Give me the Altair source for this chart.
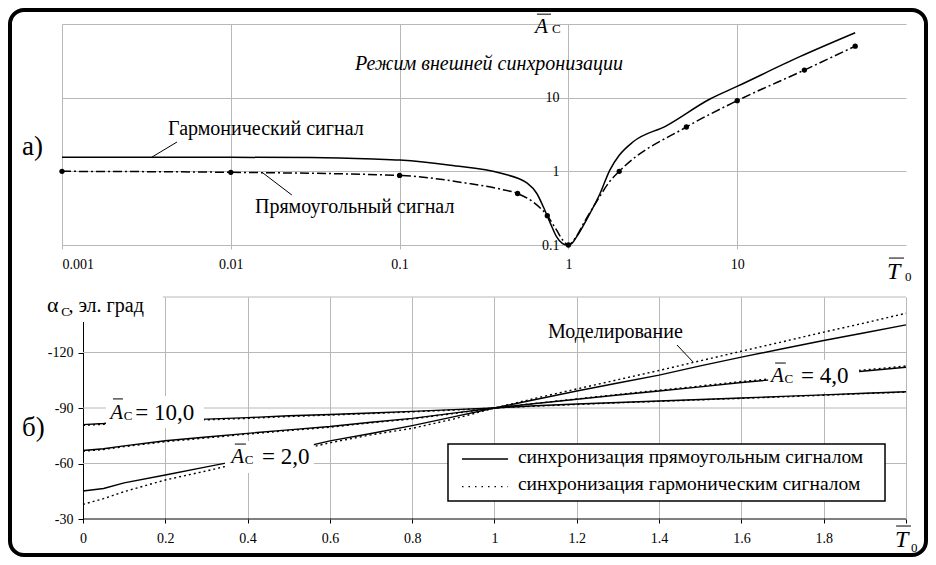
import altair as alt
import pandas as pd

FONT = "'Liberation Serif', 'Times New Roman', serif"
GRID = "#b8b8b8"

# ---------------- panel a) : A_C(T0), log-log ----------------
harm_T = [0.001, 0.01, 0.03, 0.07, 0.1, 0.2, 0.4, 0.57, 0.65, 0.71, 0.78, 0.85, 0.92, 0.97,
          1.03, 1.12, 1.28, 1.54, 1.76, 2.0, 2.42, 3.8, 6.9, 9.9, 23.5, 50]
harm_V = [1.55, 1.55, 1.54, 1.47, 1.42, 1.21, 0.94, 0.69, 0.5, 0.33, 0.2, 0.13, 0.105, 0.1,
          0.102, 0.13, 0.22, 0.5, 1.04, 1.65, 2.52, 4.15, 9.6, 14.1, 36, 76]
rect_T = [0.001, 0.01, 0.1, 0.25, 0.4, 0.5, 0.62, 0.75, 0.85, 0.93, 1.0, 1.1, 1.25, 1.5,
          1.75, 2.0, 5, 10, 25, 50]
rect_V = [1.0, 0.97, 0.88, 0.69, 0.57, 0.5, 0.38, 0.25, 0.16, 0.115, 0.1, 0.125, 0.21, 0.42,
          0.72, 1.0, 4.0, 9.1, 23.7, 50]
mark_T = [0.001, 0.01, 0.1, 0.5, 0.75, 1, 2, 5, 10, 25, 50]
mark_V = [1.0, 0.97, 0.88, 0.5, 0.25, 0.1, 1.0, 4.0, 9.1, 23.7, 50]

top_xticks = [0.001, 0.01, 0.1, 1, 10]
top_yticks = [0.1, 1, 10, 100]

# annotations of panel a): (text, T, V, size, style)
top_texts = [
    ("Гармонический сигнал", 0.00425, 3.11, 20, "normal"),
    ("Прямоугольный сигнал", 0.0139, 0.272, 20, "normal"),
    ("Режим внешней синхронизации", 0.0544, 23.7, 20, "italic"),
    ("а)", 0.00058, 1.66, 27, "normal"),
    ("A", 0.634, 75.4, 21, "italic"),
    ("C", 0.80, 75.4, 13, "normal"),
    ("T", 77.2, 0.0345, 24, "italic"),
    ("0", 98.6, 0.0324, 13, "normal"),
]
# leader lines and overlines: (T1, V1, T2, V2)
top_segments = [
    (0.0048, 2.5, 0.00341, 1.56),
    (0.0155, 0.95, 0.023, 0.477),
    (0.651, 136, 0.789, 136),
    (79.3, 0.0665, 97.3, 0.0665),
]

# ---------------- panel б) : alpha_C(T0) ----------------
b_T = [0, 0.05, 0.1, 0.2, 0.3, 0.4, 0.5, 0.6, 0.7, 0.8, 0.9, 1.0,
       1.1, 1.2, 1.3, 1.4, 1.5, 1.6, 1.7, 1.8, 1.9, 2.0]
a10_solid = [-81.0, -81.6, -82.6, -83.4, -84.0, -84.8, -85.8, -86.5, -87.3, -88.2, -89.1, -90.0,
             -91.2, -92.2, -93.0, -93.8, -94.6, -95.4, -96.3, -97.1, -98.0, -98.8]
a10_dot = [-80.6, -81.2, -82.2, -83.0, -83.6, -84.4, -85.4, -86.2, -87.0, -87.9, -88.9, -90.0,
           -91.0, -91.9, -92.8, -93.6, -94.4, -95.2, -96.0, -96.9, -97.8, -98.6]
a4_solid = [-67.0, -68.0, -69.5, -72.3, -74.3, -76.3, -78.2, -80.0, -82.3, -84.4, -87.2, -90.0,
            -92.4, -94.7, -97.0, -99.2, -101.4, -103.8, -105.8, -107.9, -110.0, -112.0]
a4_dot = [-66.6, -67.6, -69.1, -71.8, -73.8, -75.9, -77.8, -79.6, -82.0, -84.1, -87.0, -90.0,
          -92.5, -94.9, -97.3, -99.6, -101.9, -104.3, -106.4, -108.5, -110.6, -112.7]
a2_solid = [-45.1, -46.5, -49.5, -53.8, -58.2, -62.5, -67.0, -72.2, -76.2, -80.5, -85.2, -90.0,
            -94.6, -99.2, -103.5, -107.8, -112.8, -117.5, -122.0, -126.5, -130.7, -134.9]
a2_dot = [-37.9, -41.0, -44.8, -51.1, -56.0, -61.2, -66.0, -71.2, -75.5, -79.0, -84.0, -90.0,
          -95.3, -100.3, -105.3, -110.3, -115.5, -120.7, -125.8, -131.0, -136.0, -141.2]

b_xticks = [0, 0.2, 0.4, 0.6, 0.8, 1, 1.2, 1.4, 1.6, 1.8, 2]
b_yticks = [-30, -60, -90, -120]
b_hgrid = [-60, -90, -120, -150]

# white label backgrounds: (T1, T2, v1, v2)
b_masks = [
    (-0.141, 0.194, -157.6, -136.5),
    (0.0559, 0.294, -96.5, -79.2),
    (0.345, 0.561, -72.2, -54.9),
    (1.665, 1.886, -115.9, -98.6),
]
b_texts = [
    ("α", -0.0875, -141.9, 22, "normal"),
    ("C", -0.053, -139.7, 13, "normal"),
    (", эл. град", -0.0355, -141.9, 20, "normal"),
    ("б)", -0.148, -74.9, 27, "normal"),
    ("Моделирование", 1.130, -127.7, 20, "normal"),
    ("A", 0.066, -84.0, 21, "italic"),
    ("C", 0.099, -83.5, 13, "normal"),
    ("= 10,0", 0.127, -83.5, 23, "normal"),
    ("A", 0.360, -60.3, 21, "italic"),
    ("C", 0.393, -59.7, 13, "normal"),
    ("= 2,0", 0.435, -59.7, 23, "normal"),
    ("A", 1.672, -104.1, 21, "italic"),
    ("C", 1.705, -103.5, 13, "normal"),
    ("= 4,0", 1.745, -103.5, 23, "normal"),
    ("T", 1.973, -14.9, 24, "italic"),
    ("0", 2.012, -12.2, 13, "normal"),
]
b_segments = [
    (1.4435, -124.05, 1.4824, -114.9),
    (0.0729, -94.9, 0.0972, -94.9),
    (0.369, -70.5, 0.396, -70.5),
    (1.682, -114.3, 1.708, -114.3),
    (1.976, -26.2, 2.012, -26.2),
]
legend_box = (0.887, 1.949, -70.5, -39.7)
legend_rows = [
    ("синхронизация прямоугольным сигналом", -62.4, -60.1, "solid"),
    ("синхронизация гармоническим сигналом", -47.5, -45.7, "dot"),
]
legend_sample_T = (0.921, 1.033)
legend_text_T = 1.057

# ================= build panel a) =================
xs = alt.Scale(type="log", domain=[0.001, 100], nice=False)
ys = alt.Scale(type="log", domain=[0.1, 100], nice=False)

harm_df = pd.DataFrame({"T": harm_T, "V": harm_V})
rect_df = pd.DataFrame({"T": rect_T, "V": rect_V})
mark_df = pd.DataFrame({"T": mark_T, "V": mark_V})

x_top = alt.X("T:Q", scale=xs, axis=alt.Axis(
    values=top_xticks, format="~g", grid=True, gridColor=GRID, gridWidth=1,
    domain=False, ticks=True, tickColor=GRID, tickSize=4,
    labelFont=FONT, labelFontSize=14, labelColor="black", labelPadding=8, title=None))
y_top = alt.Y("V:Q", scale=ys, axis=alt.Axis(
    values=top_yticks, labelExpr="datum.value >= 100 ? '' : format(datum.value, '~g')",
    grid=True, gridColor=GRID, gridWidth=1, domain=False, ticks=False, offset=-506,
    labelFont=FONT, labelFontSize=14, labelColor="black", labelPadding=9, title=None))

top_layers = [
    alt.Chart(harm_df).mark_line(color="black", strokeWidth=1.5, interpolate="monotone").encode(
        x=x_top, y=y_top),
    alt.Chart(rect_df).mark_line(color="black", strokeWidth=1.5, strokeDash=[9, 3, 2, 3],
                                 interpolate="monotone").encode(
        x=alt.X("T:Q", scale=xs), y=alt.Y("V:Q", scale=ys)),
    alt.Chart(mark_df).mark_circle(color="black", size=28, opacity=1).encode(
        x=alt.X("T:Q", scale=xs), y=alt.Y("V:Q", scale=ys)),
]
seg_df = pd.DataFrame(top_segments, columns=["T1", "V1", "T2", "V2"])
top_layers.append(alt.Chart(seg_df).mark_rule(color="black", strokeWidth=1).encode(
    x=alt.X("T1:Q", scale=xs), y=alt.Y("V1:Q", scale=ys), x2="T2:Q", y2="V2:Q"))
for (t, tx, ty, sz, st) in top_texts:
    d = pd.DataFrame({"T": [tx], "V": [ty], "t": [t]})
    top_layers.append(alt.Chart(d).mark_text(
        font=FONT, fontSize=sz, fontStyle=st, align="left", baseline="alphabetic", color="black"
    ).encode(x=alt.X("T:Q", scale=xs), y=alt.Y("V:Q", scale=ys), text="t:N"))

# outer rounded frame (pixel decoration)
frame = alt.Chart(pd.DataFrame({"a": [0]})).mark_rect(
    fillOpacity=0, stroke="black", strokeWidth=4, cornerRadius=14
).encode(x=alt.value(-52), x2=alt.value(864), y=alt.value(-14), y2=alt.value(531))
top_layers.append(frame)

top = alt.layer(*top_layers).properties(width=844, height=221)

# ================= build panel б) =================
xb = alt.Scale(domain=[-0.051, 2], nice=False, zero=False)
yb = alt.Scale(domain=[-150, -30], reverse=True, nice=False, zero=False)

rows = []
for name, vals, kind in [("10", a10_solid, "solid"), ("10", a10_dot, "dot"),
                         ("4", a4_solid, "solid"), ("4", a4_dot, "dot"),
                         ("2", a2_solid, "solid"), ("2", a2_dot, "dot")]:
    for t, v in zip(b_T, vals):
        rows.append({"T": t, "v": v, "curve": name, "kind": kind})
bdf = pd.DataFrame(rows)

x_bot = alt.X("T:Q", scale=xb, axis=alt.Axis(
    values=b_xticks, labelExpr="datum.value > 1.95 ? '' : format(datum.value, '~g')",
    grid=True, gridColor=GRID, gridWidth=1, domain=False, ticks=True, tickColor="black",
    tickSize=4, labelFont=FONT, labelFontSize=14, labelColor="black", labelPadding=8, title=None))
y_bot = alt.Y("v:Q", scale=yb, axis=alt.Axis(
    values=b_yticks, labelExpr="'-' + format(-datum.value, 'd')", grid=False,
    domain=True, domainColor="black", domainWidth=1, ticks=True, tickColor="black", tickSize=5,
    offset=-21, labelFont=FONT, labelFontSize=14, labelColor="black", labelPadding=5, title=None))

bot_layers = []
hg = pd.DataFrame({"g": b_hgrid})
bot_layers.append(alt.Chart(hg).mark_rule(color=GRID, strokeWidth=1).encode(
    y=alt.Y("g:Q", scale=yb), x=alt.datum(0, scale=xb), x2=alt.datum(2)))
bot_layers.append(alt.Chart(bdf[bdf.kind == "solid"]).mark_line(color="black", strokeWidth=1.4).encode(
    x=x_bot, y=y_bot, detail="curve:N"))
bot_layers.append(alt.Chart(bdf[bdf.kind == "dot"]).mark_line(
    color="black", strokeWidth=1.4, strokeDash=[2, 3]).encode(
    x=alt.X("T:Q", scale=xb), y=alt.Y("v:Q", scale=yb), detail="curve:N"))
mdf = pd.DataFrame(b_masks, columns=["T1", "T2", "v1", "v2"])
bot_layers.append(alt.Chart(mdf).mark_rect(color="white").encode(
    x=alt.X("T1:Q", scale=xb), x2="T2:Q", y=alt.Y("v1:Q", scale=yb), y2="v2:Q"))
bseg = pd.DataFrame(b_segments, columns=["T1", "v1", "T2", "v2"])
bot_layers.append(alt.Chart(bseg).mark_rule(color="black", strokeWidth=1).encode(
    x=alt.X("T1:Q", scale=xb), y=alt.Y("v1:Q", scale=yb), x2="T2:Q", y2="v2:Q"))
for (t, tx, ty, sz, st) in b_texts:
    d = pd.DataFrame({"T": [tx], "v": [ty], "t": [t]})
    bot_layers.append(alt.Chart(d).mark_text(
        font=FONT, fontSize=sz, fontStyle=st, align="left", baseline="alphabetic", color="black"
    ).encode(x=alt.X("T:Q", scale=xb), y=alt.Y("v:Q", scale=yb), text="t:N"))

# legend (drawn in data space)
lb = pd.DataFrame([legend_box], columns=["T1", "T2", "v1", "v2"])
bot_layers.append(alt.Chart(lb).mark_rect(fill="white", stroke="black", strokeWidth=1.5).encode(
    x=alt.X("T1:Q", scale=xb), x2="T2:Q", y=alt.Y("v1:Q", scale=yb), y2="v2:Q"))
for (label, ys_line, ys_text, kind) in legend_rows:
    ld = pd.DataFrame({"T1": [legend_sample_T[0]], "T2": [legend_sample_T[1]], "v": [ys_line]})
    bot_layers.append(alt.Chart(ld).mark_rule(
        color="black", strokeWidth=1.4 if kind == "solid" else 1.2,
        strokeDash=[1, 0] if kind == "solid" else [1.5, 5]).encode(
        x=alt.X("T1:Q", scale=xb), x2="T2:Q", y=alt.Y("v:Q", scale=yb)))
    td = pd.DataFrame({"T": [legend_text_T], "v": [ys_text], "t": [label]})
    bot_layers.append(alt.Chart(td).mark_text(
        font=FONT, fontSize=19.5, align="left", baseline="alphabetic", color="black").encode(
        x=alt.X("T:Q", scale=xb), y=alt.Y("v:Q", scale=yb), text="t:N"))

# black x axis line from 0 to 2
bot_layers.append(alt.Chart(pd.DataFrame({"a": [0]})).mark_rule(color="black", strokeWidth=1).encode(
    y=alt.datum(-30, scale=yb), x=alt.datum(0, scale=xb), x2=alt.datum(2)))

bottom = alt.layer(*bot_layers).properties(width=844, height=222)

chart = alt.vconcat(top, bottom, spacing=52, bounds="flush").properties(
    padding=0, background="white"
).configure_view(strokeWidth=0)

chart.save("out.html", embed_options={"renderer": "svg", "actions": False})
